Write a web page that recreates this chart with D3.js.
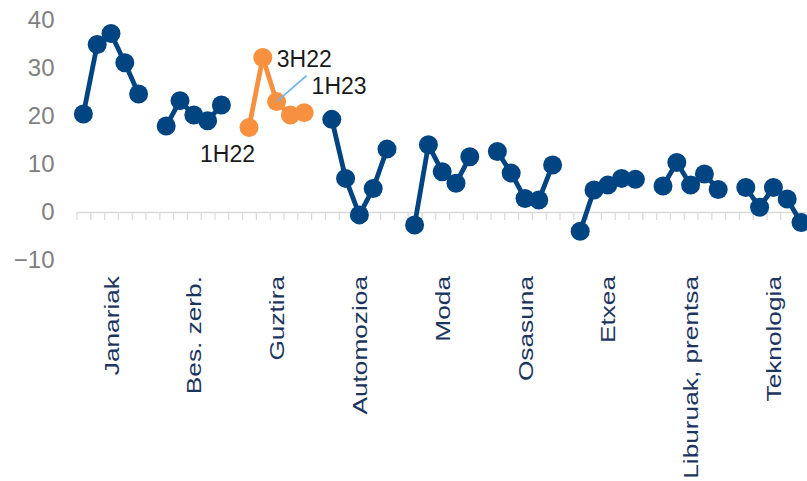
<!DOCTYPE html>
<html>
<head>
<meta charset="utf-8">
<script src="https://cdn.jsdelivr.net/npm/d3@7"></script>
<style>
  html, body { margin: 0; padding: 0; background: #fff; overflow: hidden; }
  svg { display: block; font-family: "Liberation Sans", Arial, sans-serif; }
</style>
</head>
<body>
<svg id="chart" width="807" height="481"></svg>
<script>
// Sector categories, in plotting order
const categories = ["Janariak", "Bes. zerb.", "Guztira", "Automozioa", "Moda",
                    "Osasuna", "Etxea", "Liburuak, prentsa", "Teknologia"];

// Five half-year readings per sector
const janariak   = [20.4, 34.9, 37.2, 31.1, 24.6];
const besZerb    = [17.9, 23.2, 20.2, 19.0, 22.3];
const guztira    = [17.6, 32.2, 23.0, 20.2, 20.7];
const automozioa = [19.3, 7.0, -0.6, 4.9, 13.1];
const moda       = [-2.7, 14.0, 8.4, 6.0, 11.5];
const osasuna    = [12.6, 8.1, 2.8, 2.5, 9.8];
const etxea      = [-4.0, 4.6, 5.6, 7.0, 6.8];
const liburuak   = [5.4, 10.3, 5.6, 7.9, 4.7];
const teknologia = [5.1, 1.0, 5.1, 2.7, -2.2];

const seriesValues = [janariak, besZerb, guztira, automozioa, moda,
                      osasuna, etxea, liburuak, teknologia];

const highlighted = "Guztira";
const yTicks = [-10, 0, 10, 20, 30, 40];

// Period labels shown on the highlighted series (point index within the group)
const periodNames = ["1H22", "3H22", "1H23"];
const periodIndex = [0, 1, 2];

const NAVY = "#004481", ORANGE = "#F7913F";
const slotsPerGroup = 6; // 5 points + 1 empty slot
const nSlots = categories.length * slotsPerGroup;

const svg = d3.select("#chart");

const x = d3.scaleLinear().domain([0, nSlots]).range([76.5, 76.5 + nSlots * 13.8]);
const y = d3.scaleLinear().domain([-10, 40]).range([260, 20]);

// y axis labels (no line)
const yAxis = svg.append("g")
  .attr("transform", `translate(${x(0)},0)`)
  .call(d3.axisLeft(y).tickValues(yTicks).tickSize(0).tickPadding(22).tickFormat(d3.format("d")));
yAxis.select(".domain").remove();
yAxis.selectAll("text")
  .attr("fill", "#7f7f7f")
  .style("font-size", "24px")
  .style("font-family", "'Liberation Sans', Arial, sans-serif");

// zero line with a tick at every slot boundary
const xAxis = svg.append("g")
  .attr("transform", `translate(0,${y(0)})`)
  .call(d3.axisBottom(x).tickValues(d3.range(0, nSlots + 1)).tickSize(8).tickSizeOuter(0).tickFormat(""));
xAxis.select(".domain").attr("stroke", "#d9d9d9").attr("stroke-width", 1.5);
xAxis.selectAll(".tick line").attr("stroke", "#d9d9d9").attr("stroke-width", 1.2);

// category labels, rotated and drawn a little elongated
svg.append("g").selectAll("text")
  .data(categories)
  .join("text")
  .attr("transform", (d, i) => `translate(${x(i * slotsPerGroup + 2.5)},276) rotate(-90) scale(1.25,1)`)
  .attr("text-anchor", "end")
  .attr("dy", "0.36em")
  .attr("fill", "#1c355e")
  .style("font-size", "21px")
  .text(d => d);

// one line + markers per category
const line = d3.line().x(d => x(d.slot + 0.5)).y(d => y(d.value));

categories.forEach((cat, gi) => {
  const pts = seriesValues[gi].map((v, k) => ({ slot: gi * slotsPerGroup + k, value: v }));
  const color = cat === highlighted ? ORANGE : NAVY;
  const g = svg.append("g");
  g.append("path")
    .datum(pts)
    .attr("d", line)
    .attr("fill", "none")
    .attr("stroke", color)
    .attr("stroke-width", 4.8)
    .attr("stroke-linejoin", "round");
  g.selectAll("circle")
    .data(pts)
    .join("circle")
    .attr("cx", d => x(d.slot + 0.5))
    .attr("cy", d => y(d.value))
    .attr("r", 9.5)
    .attr("fill", color);
});

// period annotations on the highlighted series
const hi = categories.indexOf(highlighted);
const hiPt = k => ({ cx: x(hi * slotsPerGroup + k + 0.5), cy: y(seriesValues[hi][k]) });
const ann = svg.append("g").style("font-size", "23px").attr("fill", "#1a1a1a");

// 1H22 below-left of its point
{
  const p = hiPt(periodIndex[0]);
  ann.append("text").attr("x", p.cx + 6).attr("y", p.cy + 34).attr("text-anchor", "end").text(periodNames[0]);
}
// 3H22 right of its point
{
  const p = hiPt(periodIndex[1]);
  ann.append("text").attr("x", p.cx + 14).attr("y", p.cy + 10).text(periodNames[1]);
}
// 1H23 with a leader line
{
  const p = hiPt(periodIndex[2]);
  svg.append("line")
    .attr("x1", p.cx).attr("y1", p.cy)
    .attr("x2", p.cx + 30).attr("y2", p.cy - 26)
    .attr("stroke", "#6cb6f0").attr("stroke-width", 1.8);
  ann.append("text").attr("x", p.cx + 35).attr("y", p.cy - 7.5).text(periodNames[2]);
}
</script>
</body>
</html>
